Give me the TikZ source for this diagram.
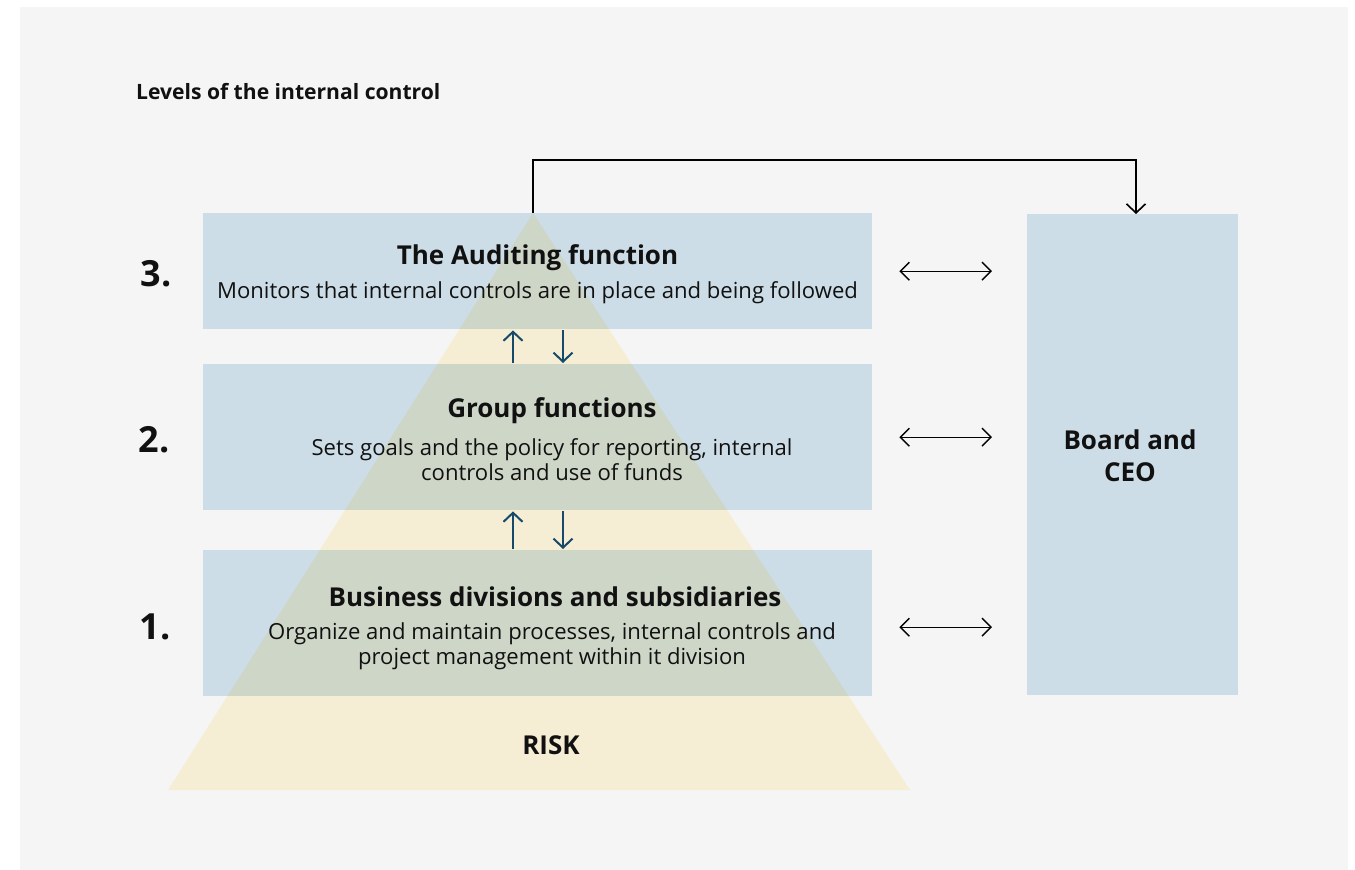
\documentclass[tikz,border=0pt]{standalone}
\usepackage{fontspec}
\setmainfont{Open Sans}
\usetikzlibrary{arrows.meta,calc}
\definecolor{pagegray}{HTML}{F5F5F5}
\definecolor{levelblue}{HTML}{CCDDE7}
\definecolor{riskyellow}{HTML}{F5EED4}
\definecolor{overlapgreen}{HTML}{CED6C8}
\definecolor{flowteal}{HTML}{16496A}
\definecolor{inkblack}{HTML}{111111}
\tikzset{
  levelbox/.style={fill=levelblue, draw=none, inner sep=0pt, anchor=north west},
  heading/.style={font=\bfseries\fontsize{26}{28}\selectfont, text=inkblack, inner sep=0pt},
  bodytext/.style={font=\fontsize{22.1}{25}\selectfont, text=inkblack, inner sep=0pt, align=center},
  levelnum/.style={font=\bfseries\fontsize{36}{40}\selectfont, text=inkblack, inner sep=0pt},
  twoway/.style={draw=black, line width=1.4pt, {Straight Barb[length=9pt,width=18pt]}-{Straight Barb[length=9pt,width=18pt]}},
  updown/.style={draw=flowteal, line width=2pt, -{Straight Barb[length=9pt,width=19pt]}},
  reportline/.style={draw=black, line width=1.6pt, -{Straight Barb[length=9pt,width=19pt]}},
}
\begin{document}
\begin{tikzpicture}[x=1pt,y=-1pt]
  % page and panel background
  \useasboundingbox (0,0) rectangle (1355,870);
  \fill[white] (0,0) rectangle (1355,870);
  \fill[pagegray] (20,7) rectangle (1348,870);

  % title
  \node[anchor=west, font=\bfseries\fontsize{21.1}{24}\selectfont, text=inkblack, inner sep=0pt] (title) at (136,92) {Levels of the internal control};

  % risk pyramid
  \coordinate (apex) at (533,213);
  \coordinate (baseL) at (168,790);
  \coordinate (baseR) at (910,790);
  \fill[riskyellow] (apex) -- (baseL) -- (baseR) -- cycle;

  % level boxes
  \node[levelbox, minimum width=669pt, minimum height=116pt] (b3) at (203,213) {};
  \node[levelbox, minimum width=669pt, minimum height=146pt] (b2) at (203,364) {};
  \node[levelbox, minimum width=669pt, minimum height=146pt] (b1) at (203,550) {};
  \node[levelbox, minimum width=211pt, minimum height=481pt] (board) at (1027,214) {};

  % where the pyramid shows through the boxes
  \begin{scope}
    \clip (apex) -- (baseL) -- (baseR) -- cycle;
    \fill[overlapgreen] (b3.north west) rectangle (b3.south east);
    \fill[overlapgreen] (b2.north west) rectangle (b2.south east);
    \fill[overlapgreen] (b1.north west) rectangle (b1.south east);
  \end{scope}

  % level texts
  \node[heading] (h3) at (537.5,258) {The Auditing function};
  \node[bodytext] (t3) at (537.5,293) {Monitors that internal controls are in place and being followed};
  \node[heading] (h2) at (552,411) {Group functions};
  \node[bodytext] (t2) at (552,460) {Sets goals and the policy for reporting, internal\\controls and use of funds};
  \node[heading] (h1) at (555,597) {Business divisions and subsidiaries};
  \node[bodytext] (t1) at (552,646) {Organize and maintain processes, internal controls and\\project management within it division};
  \node[font=\bfseries\fontsize{26}{25}\selectfont, text=inkblack, inner sep=0pt] (risk) at (551,745) {RISK};
  \node[font=\bfseries\fontsize{26}{32}\selectfont, text=inkblack, inner sep=0pt, align=center] (boardtxt) at (1130,456) {Board and\\CEO};

  % level numbers
  \node[levelnum] (n3) at (156,274) {3.};
  \node[levelnum] (n2) at (154,440) {2.};
  \node[levelnum] (n1) at (155,627) {1.};

  % flows between levels
  \coordinate (upx) at (513,0);
  \coordinate (downx) at (563,0);
  \draw[updown, shorten <=1pt, shorten >=1pt] (b2.north -| upx) -- (b3.south -| upx);
  \draw[updown, shorten <=1pt, shorten >=1pt] (b3.south -| downx) -- (b2.north -| downx);
  \draw[updown, shorten <=1pt, shorten >=1pt] (b1.north -| upx) -- (b2.south -| upx);
  \draw[updown, shorten <=1pt, shorten >=1pt] (b2.south -| downx) -- (b1.north -| downx);

  % exchange with the board
  \draw[twoway, shorten <=27pt, shorten >=35pt] (b3.east) -- (b3.east -| board.west);
  \draw[twoway, shorten <=27pt, shorten >=35pt] (b2.east) -- (b2.east -| board.west);
  \draw[twoway, shorten <=27pt, shorten >=35pt] ([yshift=-4pt]b1.east) -- ([yshift=-4pt]b1.east -| board.west);

  % reporting line from the top of the pyramid
  \coordinate (boardin) at (1136,214);
  \draw[reportline] (apex) -- ++(0,-53) -| (boardin);
\end{tikzpicture}
\end{document}
